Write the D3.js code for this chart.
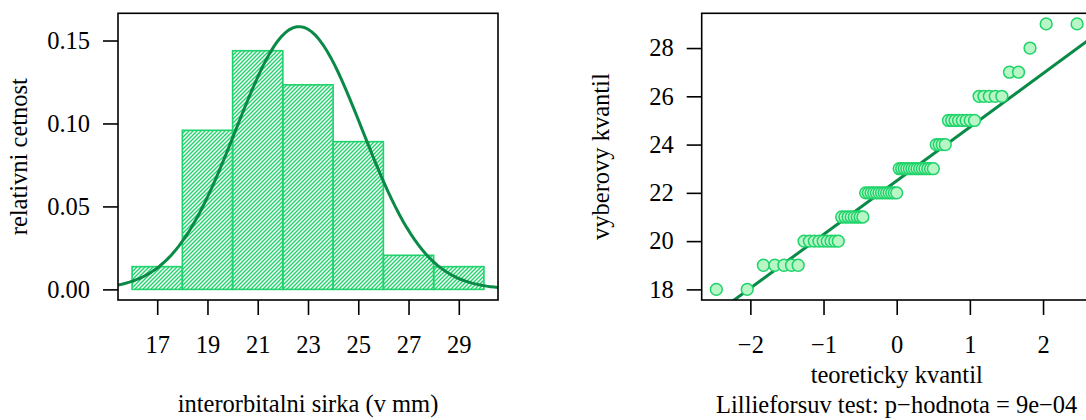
<!DOCTYPE html>
<html>
<head>
<meta charset="utf-8">
<script src="https://cdn.jsdelivr.net/npm/d3@7"></script>
<style>
  body { margin: 0; background: #fff; }
  text { font-family: "Liberation Serif", "Times New Roman", serif; fill: #000; }
</style>
</head>
<body>
<svg id="chart" width="1086" height="420"></svg>
<script>
// Interorbital width (mm): observed values and how many times each occurs
const widthValues = [18, 19, 20, 21, 22, 23, 24, 25, 26, 27, 28, 29];
const widthCounts = [2, 5, 9, 8, 13, 14, 4, 8, 5, 2, 1, 2];

// Histogram class breaks and axis ticks
const histBreaks = [16, 18, 20, 22, 24, 26, 28, 30];
const histXTicks = [17, 19, 21, 23, 25, 27, 29];
const histYTicks = [0, 0.05, 0.10, 0.15];
const histYMax = 0.16;

// Q-Q plot axis ticks and limits
const qqXTicks = [-2, -1, 0, 1, 2];
const qqYTicks = [18, 20, 22, 24, 26, 28];
const qqXLimit = 2.665;

// Lilliefors test result shown under the Q-Q plot
const lillieforsP = "9e\u221204";

const barColor = "#1ed36a";
const lineColor = "#0a8a47";
const pointFill = "#b9f6c6";
const fontSize = 24.5;

// ---- sample derived from the frequency table ----
const sample = widthValues.flatMap((v, i) => Array(widthCounts[i]).fill(v));
const n = sample.length;
const mean = d3.mean(sample);
const sd = d3.deviation(sample);

// right-closed classes (a, b], first class includes its lower bound
const bins = histBreaks.slice(0, -1).map((a, i) => {
  const b = histBreaks[i + 1];
  const count = sample.filter(v => (v > a || (i === 0 && v >= a)) && v <= b).length;
  return { x0: a, x1: b, density: count / (n * (b - a)) };
});

const dnorm = (x, m, s) => Math.exp(-0.5 * ((x - m) / s) ** 2) / (s * Math.sqrt(2 * Math.PI));

// inverse standard normal CDF (Acklam's rational approximation)
function qnorm(p) {
  const a = [-3.969683028665376e+01, 2.209460984245205e+02, -2.759285104469687e+02, 1.383577518672690e+02, -3.066479806614716e+01, 2.506628277459239e+00];
  const b = [-5.447609879822406e+01, 1.615858368580409e+02, -1.556989798598866e+02, 6.680131188771972e+01, -1.328068155288572e+01];
  const c = [-7.784894002430293e-03, -3.223964580411365e-01, -2.400758277161838e+00, -2.549732539343734e+00, 4.374664141464968e+00, 2.938163982698783e+00];
  const d = [7.784695709041462e-03, 3.224671290700398e-01, 2.445134137142996e+00, 3.754408661907416e+00];
  const pl = 0.02425;
  if (p < pl) {
    const q = Math.sqrt(-2 * Math.log(p));
    return (((((c[0]*q+c[1])*q+c[2])*q+c[3])*q+c[4])*q+c[5]) / ((((d[0]*q+d[1])*q+d[2])*q+d[3])*q+1);
  }
  if (p > 1 - pl) {
    const q = Math.sqrt(-2 * Math.log(1 - p));
    return -(((((c[0]*q+c[1])*q+c[2])*q+c[3])*q+c[4])*q+c[5]) / ((((d[0]*q+d[1])*q+d[2])*q+d[3])*q+1);
  }
  const q = p - 0.5, r = q * q;
  return (((((a[0]*r+a[1])*r+a[2])*r+a[3])*r+a[4])*r+a[5])*q / (((((b[0]*r+b[1])*r+b[2])*r+b[3])*r+b[4])*r+1);
}

const svg = d3.select("#chart");

// diagonal hatching for the histogram bars
const defs = svg.append("defs");
defs.append("pattern")
  .attr("id", "hatch")
  .attr("patternUnits", "userSpaceOnUse")
  .attr("width", 4).attr("height", 4)
  .append("path")
  .attr("d", "M-1,1 l2,-2 M0,4 l4,-4 M3,5 l2,-2")
  .attr("stroke", barColor)
  .attr("stroke-width", 1.4);

// pads a range by 4% on each side
const pad = ([lo, hi]) => { const e = 0.04 * (hi - lo); return [lo - e, hi + e]; };

// ================= histogram panel =================
const hp = { left: 118, right: 498, top: 13.3, bottom: 300 };
const hx = d3.scaleLinear().domain(pad([histBreaks[0], histBreaks[histBreaks.length - 1]])).range([hp.left, hp.right]);
const hy = d3.scaleLinear().domain(pad([0, histYMax])).range([hp.bottom, hp.top]);

const hist = svg.append("g");
defs.append("clipPath").attr("id", "histClip")
  .append("rect").attr("x", hp.left).attr("y", hp.top)
  .attr("width", hp.right - hp.left).attr("height", hp.bottom - hp.top);

hist.append("g").selectAll("rect").data(bins).join("rect")
  .attr("x", d => hx(d.x0))
  .attr("y", d => hy(d.density))
  .attr("width", d => hx(d.x1) - hx(d.x0))
  .attr("height", d => hy(0) - hy(d.density))
  .attr("fill", "url(#hatch)")
  .attr("stroke", barColor)
  .attr("stroke-width", 1.6);

const curveXs = d3.range(101).map(i => hx.domain()[0] + i * (hx.domain()[1] - hx.domain()[0]) / 100);
hist.append("path")
  .datum(curveXs)
  .attr("clip-path", "url(#histClip)")
  .attr("fill", "none")
  .attr("stroke", lineColor)
  .attr("stroke-width", 3)
  .attr("d", d3.line().x(x => hx(x)).y(x => hy(dnorm(x, mean, sd))));

hist.append("rect")
  .attr("x", hp.left).attr("y", hp.top)
  .attr("width", hp.right - hp.left).attr("height", hp.bottom - hp.top)
  .attr("fill", "none").attr("stroke", "#000").attr("stroke-width", 1.6);

function styleAxis(g) {
  g.select(".domain").remove();
  g.attr("font-family", null);
  g.selectAll(".tick line").attr("stroke", "#000").attr("stroke-width", 1.6);
  g.selectAll(".tick text").attr("font-size", fontSize);
}

hist.append("g")
  .attr("transform", `translate(0,${hp.bottom})`)
  .call(d3.axisBottom(hx).tickValues(histXTicks).tickSize(15).tickPadding(21).tickFormat(d3.format("d")))
  .call(styleAxis);

hist.append("g")
  .attr("transform", `translate(${hp.left},0)`)
  .call(d3.axisLeft(hy).tickValues(histYTicks).tickSize(15).tickPadding(13).tickFormat(d3.format(".2f")))
  .call(styleAxis);

hist.append("text")
  .attr("x", (hp.left + hp.right) / 2).attr("y", 412)
  .attr("text-anchor", "middle").attr("font-size", fontSize)
  .text("interorbitalni sirka (v mm)");

hist.append("text")
  .attr("transform", `translate(27,${(hp.top + hp.bottom) / 2}) rotate(-90)`)
  .attr("text-anchor", "middle").attr("font-size", fontSize)
  .text("relativni cetnost");

// ================= Q-Q panel =================
const qp = { left: 701.7, right: 1091.7, top: 13.3, bottom: 300 };
const sorted = sample.slice().sort(d3.ascending);
const a = n <= 10 ? 3 / 8 : 0.5;
const qqPoints = sorted.map((v, i) => ({ t: qnorm((i + 1 - a) / (n + 1 - 2 * a)), v }));

const qx = d3.scaleLinear().domain([-qqXLimit, qqXLimit]).range([qp.left, qp.right]);
const qy = d3.scaleLinear().domain(pad(d3.extent(sorted))).range([qp.bottom, qp.top]);

defs.append("clipPath").attr("id", "qqClip")
  .append("rect").attr("x", qp.left).attr("y", qp.top)
  .attr("width", qp.right - qp.left).attr("height", qp.bottom - qp.top);

const qq = svg.append("g");

// reference line through the first and third quartiles
const q1 = d3.quantile(sorted, 0.25), q3 = d3.quantile(sorted, 0.75);
const z1 = qnorm(0.25), z3 = qnorm(0.75);
const slope = (q3 - q1) / (z3 - z1);
const intercept = q1 - slope * z1;
qq.append("line")
  .attr("clip-path", "url(#qqClip)")
  .attr("x1", qx(-qqXLimit)).attr("y1", qy(intercept - slope * qqXLimit))
  .attr("x2", qx(qqXLimit)).attr("y2", qy(intercept + slope * qqXLimit))
  .attr("stroke", lineColor).attr("stroke-width", 3);

qq.append("g").selectAll("circle").data(qqPoints).join("circle")
  .attr("cx", d => qx(d.t))
  .attr("cy", d => qy(d.v))
  .attr("r", 5.9)
  .attr("fill", pointFill)
  .attr("stroke", barColor)
  .attr("stroke-width", 1.5);

qq.append("rect")
  .attr("x", qp.left).attr("y", qp.top)
  .attr("width", qp.right - qp.left).attr("height", qp.bottom - qp.top)
  .attr("fill", "none").attr("stroke", "#000").attr("stroke-width", 1.6);

qq.append("g")
  .attr("transform", `translate(0,${qp.bottom})`)
  .call(d3.axisBottom(qx).tickValues(qqXTicks).tickSize(15).tickPadding(21).tickFormat(d => d < 0 ? "\u2212" + Math.abs(d) : String(d)))
  .call(styleAxis);

qq.append("g")
  .attr("transform", `translate(${qp.left},0)`)
  .call(d3.axisLeft(qy).tickValues(qqYTicks).tickSize(15).tickPadding(13).tickFormat(d3.format("d")))
  .call(styleAxis);

const qCenter = qx(0);
qq.append("text")
  .attr("x", qCenter).attr("y", 383)
  .attr("text-anchor", "middle").attr("font-size", fontSize)
  .text("teoreticky kvantil");

qq.append("text")
  .attr("x", qCenter).attr("y", 413)
  .attr("text-anchor", "middle").attr("font-size", fontSize)
  .text(`Lillieforsuv test: p\u2212hodnota = ${lillieforsP}`);

qq.append("text")
  .attr("transform", `translate(609,${(qp.top + qp.bottom) / 2}) rotate(-90)`)
  .attr("text-anchor", "middle").attr("font-size", fontSize)
  .text("vyberovy kvantil");
</script>
</body>
</html>
